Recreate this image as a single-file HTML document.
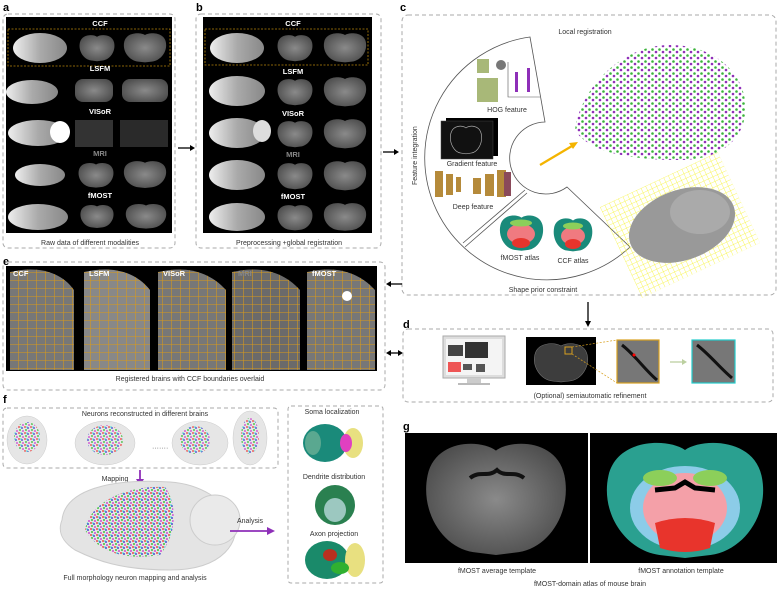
<!DOCTYPE html>
<html><head><meta charset="utf-8"><style>
html,body{margin:0;padding:0;background:#fff;}
svg{display:block;font-family:"Liberation Sans",Arial,sans-serif;}
.lab{font-weight:bold;font-size:11px;fill:#000}
.cap{font-size:7px;fill:#333;text-anchor:middle}
.w{font-size:7.5px;fill:#fff;font-weight:bold;text-anchor:middle}
.db{fill:none;stroke:#aaa;stroke-width:1;stroke-dasharray:4 3}
</style></head><body>
<svg width="778" height="589" viewBox="0 0 778 589" xmlns="http://www.w3.org/2000/svg">
<defs>
<path id="cor" d="M50,8 C40,0 10,0 5,25 C0,50 15,75 35,78 L50,80 L65,78 C85,75 100,50 95,25 C90,0 60,0 50,8Z"/>
<radialGradient id="gb" cx="50%" cy="50%" r="60%"><stop offset="0" stop-color="#8a8a8a"/><stop offset="1" stop-color="#4a4a4a"/></radialGradient>
<linearGradient id="sag" x1="0" x2="1"><stop offset="0" stop-color="#eee"/><stop offset=".5" stop-color="#aaa"/><stop offset="1" stop-color="#888"/></linearGradient>
<pattern id="dots" width="7" height="6" patternUnits="userSpaceOnUse"><circle cx="1.5" cy="1.5" r="1.3" fill="#3bb33b"/><circle cx="5" cy="4" r="1.3" fill="#8e2fb8"/></pattern>
<pattern id="ygrid" width="5" height="5" patternUnits="userSpaceOnUse"><path d="M0,0H5M0,0V5" stroke="#f4f000" stroke-width=".8"/></pattern>
<pattern id="og" width="9" height="8" patternUnits="userSpaceOnUse"><path d="M0,0H9M0,0V8" stroke="#d89a1a" stroke-width="1.1"/></pattern>
<pattern id="neu" width="6" height="6" patternUnits="userSpaceOnUse"><circle cx="1" cy="1" r="1" fill="#e33"/><circle cx="4" cy="2" r="1" fill="#33c"/><circle cx="2" cy="4" r="1" fill="#2b2"/><circle cx="5" cy="5" r="1" fill="#c3c"/><circle cx="3" cy="1" r=".8" fill="#0cc"/></pattern>
</defs>

<!-- Panel a -->
<text x="3" y="11" class="lab">a</text>
<rect x="3" y="14" width="172" height="234" rx="5" class="db"/>
<rect x="6" y="17" width="166" height="216" fill="#000"/>
<rect x="8" y="29" width="162" height="37" fill="none" stroke="#b8860b" stroke-dasharray="2 1.5" stroke-width=".8"/>
<g class="w"><text x="100" y="26">CCF</text><text x="100" y="71">LSFM</text><text x="100" y="114">VISoR</text><text x="100" y="156" fill="#888">MRI</text><text x="100" y="198">fMOST</text></g>
<g fill="url(#sag)">
<ellipse cx="40" cy="48" rx="27" ry="15"/><ellipse cx="32" cy="92" rx="26" ry="12"/><ellipse cx="38" cy="133" rx="30" ry="13"/><ellipse cx="40" cy="175" rx="25" ry="11"/><ellipse cx="38" cy="217" rx="30" ry="13"/></g>
<ellipse cx="60" cy="132" rx="10" ry="11" fill="#fff"/>
<g fill="url(#gb)">
<use href="#cor" transform="translate(78,34) scale(.38,.34)"/><use href="#cor" transform="translate(122,32) scale(.46,.38)"/>
<rect x="75" y="79" width="38" height="23" rx="8"/><rect x="122" y="79" width="46" height="23" rx="8"/>
<rect x="75" y="120" width="38" height="27" fill="#333"/><rect x="120" y="120" width="48" height="27" fill="#2a2a2a"/>
<use href="#cor" transform="translate(77,162) scale(.38,.32)"/><use href="#cor" transform="translate(122,160) scale(.46,.35)"/>
<use href="#cor" transform="translate(79,204) scale(.36,.3)"/><use href="#cor" transform="translate(124,203) scale(.44,.32)"/></g>
<text x="90" y="245" class="cap">Raw data of different modalities</text>
<path d="M178,148H192" stroke="#000" stroke-width="1.3"/><path d="M195,148l-5,-3v6z"/>

<!-- Panel b -->
<text x="196" y="11" class="lab">b</text>
<rect x="196" y="14" width="185" height="234" rx="5" class="db"/>
<rect x="203" y="17" width="169" height="216" fill="#000"/>
<rect x="205" y="29" width="163" height="36" fill="none" stroke="#b8860b" stroke-dasharray="2 1.5" stroke-width=".8"/>
<g class="w"><text x="293" y="26">CCF</text><text x="293" y="74">LSFM</text><text x="293" y="116">VISoR</text><text x="293" y="157" fill="#888">MRI</text><text x="293" y="199">fMOST</text></g>
<g fill="url(#sag)">
<ellipse cx="237" cy="48" rx="27" ry="15"/><ellipse cx="237" cy="91" rx="28" ry="15"/><ellipse cx="237" cy="133" rx="28" ry="15"/><ellipse cx="237" cy="175" rx="28" ry="15"/><ellipse cx="237" cy="217" rx="28" ry="14"/></g>
<ellipse cx="262" cy="131" rx="9" ry="11" fill="#ddd"/>
<g fill="url(#gb)">
<use href="#cor" transform="translate(276,34) scale(.38,.34)"/><use href="#cor" transform="translate(322,32) scale(.46,.38)"/>
<use href="#cor" transform="translate(276,78) scale(.38,.34)"/><use href="#cor" transform="translate(322,76) scale(.46,.38)"/>
<use href="#cor" transform="translate(276,120) scale(.38,.34)"/><use href="#cor" transform="translate(322,118) scale(.46,.38)"/>
<use href="#cor" transform="translate(276,162) scale(.38,.34)"/><use href="#cor" transform="translate(322,160) scale(.46,.38)"/>
<use href="#cor" transform="translate(276,204) scale(.38,.33)"/><use href="#cor" transform="translate(322,202) scale(.46,.36)"/></g>
<text x="289" y="245" class="cap">Preprocessing +global registration</text>
<path d="M383,152H395" stroke="#000" stroke-width="1.3"/><path d="M399,152l-5,-3v6z"/>

<!-- Panel c -->
<text x="400" y="11" class="lab">c</text>
<rect x="402" y="15" width="374" height="280" rx="6" class="db"/>
<text x="585" y="34" class="cap">Local registration</text>
<path d="M530,37 A122,122 0 1 0 630,247 L567,187 A36,36 0 1 1 545,122 Z" fill="#fff" stroke="#555" stroke-width=".8"/>
<path d="M463,243 L525,190 M465,247 L527,193" stroke="#555" stroke-width=".8"/>
<text transform="translate(417,185) rotate(-90)" class="cap" style="text-anchor:start">Feature integration</text>
<rect x="477" y="78" width="21" height="24" fill="#a8b878"/><rect x="477" y="59" width="12" height="14" fill="#a8b878"/>
<circle cx="501" cy="65" r="5" fill="#777"/>
<rect x="515" y="72" width="3" height="20" fill="#8e2fb8"/><rect x="527" y="68" width="3" height="24" fill="#8e2fb8"/>
<path d="M508,62V97H540" stroke="#555" fill="none" stroke-width=".6"/>
<text x="507" y="112" class="cap">HOG feature</text>
<rect x="446" y="118" width="52" height="38" fill="#000"/><rect x="441" y="121" width="52" height="38" fill="#111" stroke="#444" stroke-width=".5"/>
<use href="#cor" transform="translate(449,125) scale(.34,.36)" fill="none" stroke="#aaa" stroke-width="2"/>
<text x="472" y="166" class="cap">Gradient feature</text>
<g fill="#b58a3a"><rect x="435" y="171" width="8" height="26"/><rect x="446" y="174" width="7" height="21"/><rect x="456" y="177" width="5" height="15"/><rect x="473" y="178" width="8" height="16"/><rect x="485" y="174" width="9" height="22"/><rect x="497" y="170" width="9" height="27"/><rect x="504" y="172" width="7" height="24" fill="#8a4a5a"/></g>
<text x="473" y="209" class="cap">Deep feature</text>
<g transform="translate(498,214)"><use href="#cor" transform="scale(.47,.46)" fill="#1a8a7a"/><ellipse cx="23" cy="20" rx="14" ry="10" fill="#f07a80"/><ellipse cx="23" cy="29" rx="9" ry="5" fill="#e8342c"/><ellipse cx="23" cy="9" rx="11" ry="3.5" fill="#8ccf5a"/></g>
<g transform="translate(552,217)"><use href="#cor" transform="scale(.42,.43)" fill="#1a8a7a"/><ellipse cx="21" cy="19" rx="12" ry="9" fill="#f07a80"/><ellipse cx="21" cy="27" rx="8" ry="5" fill="#e8342c"/><ellipse cx="21" cy="9" rx="10" ry="3.5" fill="#8ccf5a"/></g>
<text x="520" y="260" class="cap">fMOST atlas</text><text x="573" y="263" class="cap">CCF atlas</text>
<text x="543" y="292" class="cap">Shape prior constraint</text>
<path d="M540,165 L572,146" stroke="#f4b400" stroke-width="2.2"/><path d="M578,142 l-9,1 4,6z" fill="#f4b400"/>
<path d="M575,130 C580,90 620,45 670,45 C720,45 750,80 745,115 C742,140 720,160 680,160 C640,160 590,155 575,130Z" fill="url(#dots)"/>
<g transform="rotate(-25 680 225)"><rect x="615" y="175" width="130" height="100" fill="url(#ygrid)" opacity=".8"/></g>
<ellipse cx="682" cy="225" rx="55" ry="35" fill="#999" transform="rotate(-20 682 225)"/>
<ellipse cx="700" cy="212" rx="30" ry="22" fill="#aaa"/>

<!-- Panel e -->
<text x="3" y="265" class="lab">e</text>
<rect x="3" y="262" width="382" height="128" rx="5" class="db"/>
<rect x="6" y="266" width="371" height="105" fill="#000"/>
<g>
<path d="M10,272 C35,266 60,270 74,290 L74,370 L10,370Z" fill="#777"/>
<path d="M10,272 C35,266 60,270 74,290 L74,370 L10,370Z" fill="url(#og)"/>
<path d="M84,272 C110,266 134,270 150,290 L150,370 L84,370Z" fill="#888"/>
<path d="M84,272 C110,266 134,270 150,290 L150,370 L84,370Z" fill="url(#og)"/>
<path d="M158,272 C184,266 208,270 226,290 L226,370 L158,370Z" fill="#777"/>
<path d="M158,272 C184,266 208,270 226,290 L226,370 L158,370Z" fill="url(#og)"/>
<path d="M232,272 C258,266 282,270 300,290 L300,370 L232,370Z" fill="#6a6a6a"/>
<path d="M232,272 C258,266 282,270 300,290 L300,370 L232,370Z" fill="url(#og)"/>
<path d="M307,272 C333,266 357,270 375,290 L375,370 L307,370Z" fill="#777"/>
<path d="M307,272 C333,266 357,270 375,290 L375,370 L307,370Z" fill="url(#og)"/>
<circle cx="347" cy="296" r="5" fill="#fff"/>
</g>
<g class="w" style="text-anchor:start"><text x="13" y="276">CCF</text><text x="89" y="276">LSFM</text><text x="163" y="276">VISoR</text><text x="238" y="276" fill="#888">MRI</text><text x="312" y="276">fMOST</text></g>
<text x="190" y="381" class="cap">Registered brains with CCF boundaries overlaid</text>
<path d="M390,284H402" stroke="#000" stroke-width="1.3"/><path d="M386,284l5,-3v6z"/>
<path d="M390,353H399" stroke="#000" stroke-width="1.3"/><path d="M386,353l5,-3v6z"/><path d="M403,353l-5,-3v6z"/>

<!-- Panel d -->
<path d="M588,302V322" stroke="#000" stroke-width="1.3"/><path d="M588,327l-3,-6h6z"/>
<text x="403" y="328" class="lab">d</text>
<rect x="403" y="329" width="370" height="73" rx="5" class="db"/>
<rect x="443" y="336" width="62" height="42" fill="#ddd" stroke="#aaa"/><rect x="446" y="339" width="56" height="36" fill="#f4f4f4"/>
<rect x="448" y="345" width="15" height="11" fill="#444"/><rect x="465" y="342" width="23" height="16" fill="#333"/>
<rect x="448" y="362" width="13" height="10" fill="#e55"/><rect x="463" y="364" width="9" height="6" fill="#555"/><rect x="476" y="364" width="9" height="8" fill="#555"/>
<rect x="467" y="378" width="14" height="5" fill="#ccc"/><rect x="458" y="383" width="32" height="2" fill="#bbb"/>
<rect x="526" y="337" width="70" height="48" fill="#000"/>
<use href="#cor" transform="translate(532,342) scale(.58,.5)" fill="#3d3d3d" stroke="#777" stroke-width="1"/>
<rect x="565" y="347" width="7" height="7" fill="none" stroke="#d8a020"/>
<path d="M572,347L617,340M572,354L617,383" stroke="#d8a020" stroke-dasharray="2 1.5" stroke-width=".7"/>
<rect x="617" y="340" width="42" height="43" fill="#777" stroke="#d8a020" stroke-width="1.2"/>
<path d="M622,345 C635,355 645,370 657,380" stroke="#111" stroke-width="3" fill="none"/><circle cx="634" cy="355" r="1.5" fill="#f00"/>
<path d="M670,362H683" stroke="#bcd0a0" stroke-width="1.3"/><path d="M687,362l-5,-3v6z" fill="#bcd0a0"/>
<rect x="692" y="340" width="43" height="43" fill="#777" stroke="#2cc" stroke-width="1.2"/>
<path d="M697,345 C710,355 720,368 732,378" stroke="#111" stroke-width="3" fill="none"/>
<text x="590" y="398" class="cap">(Optional) semiautomatic refinement</text>

<!-- Panel f -->
<text x="3" y="403" class="lab">f</text>
<rect x="3" y="408" width="275" height="60" rx="4" class="db"/>
<text x="145" y="416" class="cap">Neurons reconstructed in different brains</text>
<g fill="#e6e6e6" stroke="#ccc" stroke-width=".5">
<ellipse cx="27" cy="440" rx="20" ry="24"/><ellipse cx="105" cy="443" rx="30" ry="22"/><ellipse cx="200" cy="443" rx="28" ry="22"/><ellipse cx="250" cy="438" rx="17" ry="27"/></g>
<g fill="url(#neu)" opacity=".75"><ellipse cx="27" cy="437" rx="13" ry="15"/><ellipse cx="105" cy="440" rx="18" ry="15"/><ellipse cx="195" cy="440" rx="15" ry="14"/><ellipse cx="250" cy="436" rx="9" ry="18"/></g>
<text x="152" y="450" style="font-size:7px;fill:#555">·······</text>
<path d="M140,470V480" stroke="#8e2fb8" stroke-width="1.8"/><path d="M140,486l-4,-7h8z" fill="#8e2fb8"/>
<text x="115" y="481" class="cap">Mapping</text>
<path d="M62,520 C65,490 110,478 170,482 C200,484 225,500 235,520 C240,540 225,570 170,570 C120,570 95,560 75,550 C60,540 58,530 62,520Z" fill="#e4e4e4" stroke="#ccc"/>
<ellipse cx="215" cy="520" rx="25" ry="25" fill="#eaeaea" stroke="#ccc"/>
<path d="M85,530 C90,500 130,485 165,487 C175,500 180,530 160,555 C130,560 100,555 85,530Z" fill="url(#neu)" opacity=".85"/>
<text x="135" y="580" class="cap">Full morphology neuron mapping and analysis</text>
<path d="M230,531H268" stroke="#8e2fb8" stroke-width="1.8"/><path d="M275,531l-8,-4v8z" fill="#8e2fb8"/>
<text x="250" y="523" class="cap">Analysis</text>
<rect x="288" y="406" width="95" height="177" rx="3" class="db"/>
<text x="332" y="414" class="cap">Soma localization</text>
<ellipse cx="325" cy="443" rx="22" ry="19" fill="#1a8a7a"/><ellipse cx="353" cy="443" rx="10" ry="15" fill="#e8e080"/><ellipse cx="346" cy="443" rx="6" ry="9" fill="#e040c0"/><ellipse cx="313" cy="443" rx="8" ry="12" fill="#5aa890"/>
<text x="334" y="479" class="cap">Dendrite distribution</text>
<ellipse cx="335" cy="505" rx="20" ry="20" fill="#2a8050"/><ellipse cx="335" cy="510" rx="11" ry="12" fill="#9cc8c0"/>
<text x="334" y="536" class="cap">Axon projection</text>
<ellipse cx="327" cy="560" rx="22" ry="19" fill="#1a8a6a"/><ellipse cx="355" cy="560" rx="10" ry="17" fill="#e8e080"/><ellipse cx="330" cy="555" rx="7" ry="6" fill="#b83020"/><ellipse cx="340" cy="568" rx="9" ry="6" fill="#30b030"/>

<!-- Panel g -->
<text x="403" y="430" class="lab">g</text>
<rect x="405" y="433" width="183" height="130" fill="#000"/>
<rect x="590" y="433" width="187" height="130" fill="#000"/>
<use href="#cor" transform="translate(420,439) scale(1.52,1.45)" fill="url(#gb)"/>
<path d="M470,478 C480,470 488,478 497,470 C505,478 514,470 524,478" stroke="#111" stroke-width="4" fill="none"/>
<g transform="translate(600,438)">
<use href="#cor" transform="scale(1.7,1.5)" fill="#2aa090"/>
<ellipse cx="85" cy="70" rx="55" ry="42" fill="#8ccce8"/>
<ellipse cx="85" cy="70" rx="42" ry="35" fill="#f4a0a8"/>
<path d="M55,85 Q85,75 115,85 L110,110 Q85,118 60,110Z" fill="#e8342c"/>
<ellipse cx="60" cy="40" rx="17" ry="8" fill="#8ccf5a"/><ellipse cx="110" cy="40" rx="17" ry="8" fill="#8ccf5a"/>
<path d="M55,52 L75,50 L85,44 L95,50 L115,52" stroke="#000" stroke-width="5" fill="none"/>
</g>
<text x="497" y="573" class="cap">fMOST average template</text>
<text x="681" y="573" class="cap">fMOST annotation template</text>
<text x="590" y="586" class="cap">fMOST-domain atlas of mouse brain</text>
</svg>
</body></html>
